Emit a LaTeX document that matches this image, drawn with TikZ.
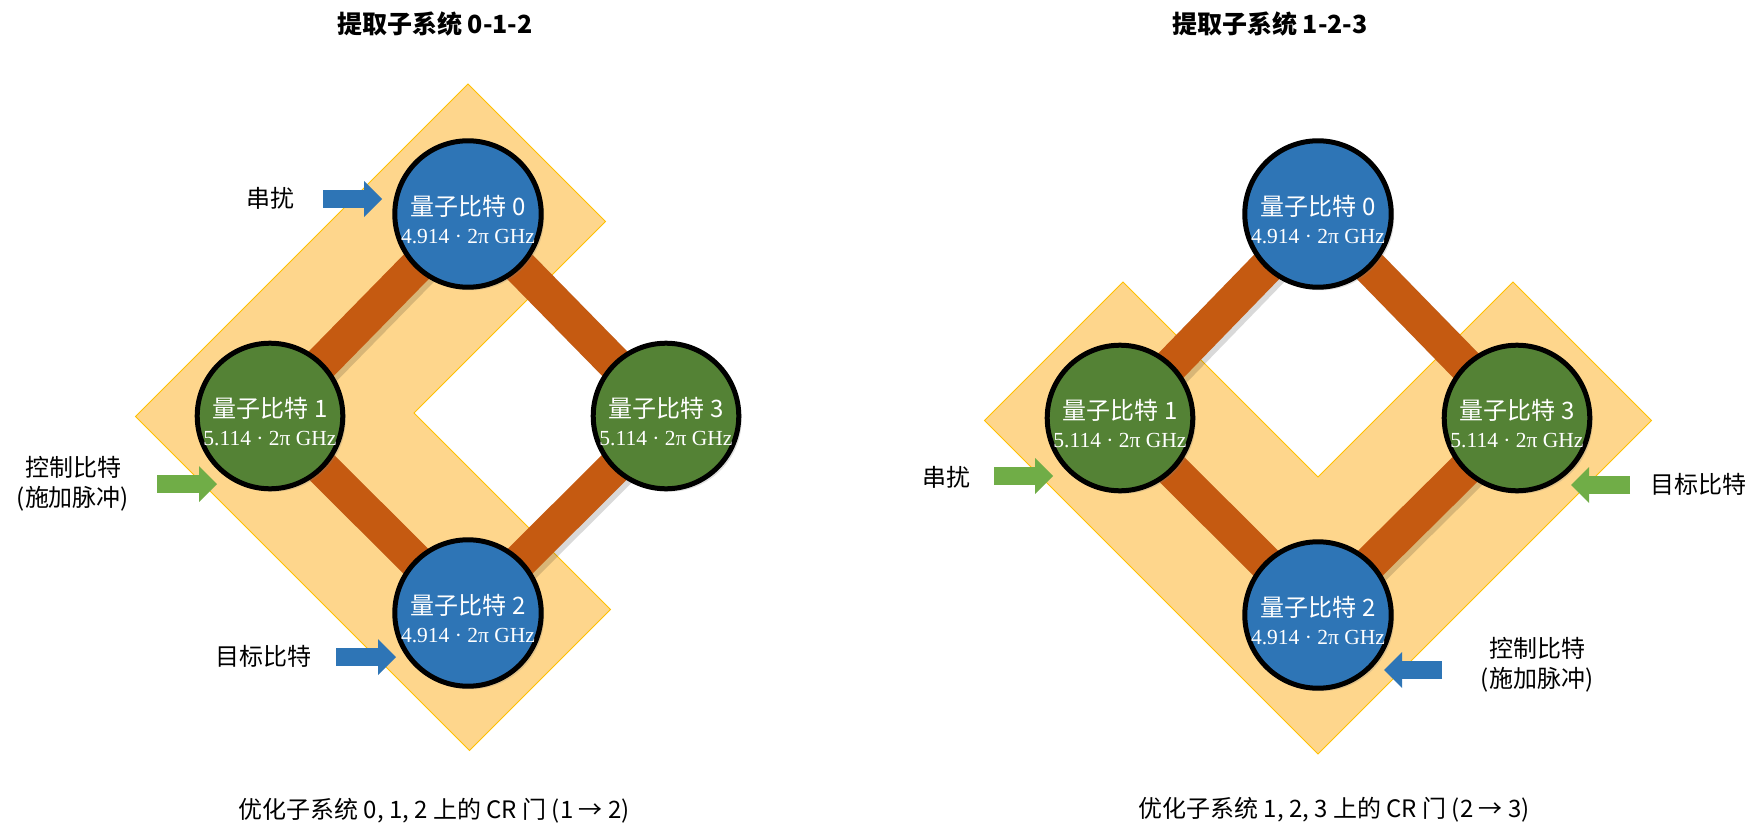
\documentclass[tikz,border=0pt]{standalone}
\usepackage{fontspec}
\newfontfamily\cjk{Noto Sans CJK SC}
\newfontfamily\freqfont{Liberation Serif}
\usetikzlibrary{arrows.meta, backgrounds, shadows}

\definecolor{qblue}{RGB}{46,117,182}
\definecolor{qgreen}{RGB}{84,130,53}
\definecolor{lgreen}{RGB}{112,173,71}
\definecolor{bond}{RGB}{197,90,17}
\definecolor{band}{RGB}{254,214,140}
\definecolor{bandedge}{RGB}{255,192,0}

\newcommand{\qname}[1]{{\cjk\fontsize{24}{28}\selectfont\rule{0pt}{32pt}量子比特 #1}}
\newcommand{\qfreq}[1]{{\freqfont\fontsize{21.5}{28}\selectfont #1 · 2π GHz}}

\tikzset{
    qubit/.style={circle, draw = black, line width = 5pt, minimum size = 143pt, inner sep = 0pt, text = white, align = center,
        font = \fontsize{24}{28}\selectfont,
        drop shadow = {shadow xshift = 3pt, shadow yshift = -3pt, opacity = 0.25}},
    bondline/.style={line width = 35pt, draw = bond},
    bondshade/.style={line width = 35pt, draw = black, opacity = 0.15},
    region/.style={draw = bandedge, line width = 1pt, fill = band},
    blockarrow/.style={line width = 18pt, -{Triangle[length = 18pt, width = 36pt, line width = 0pt]}},
    lbl/.style={font = \cjk\fontsize{24}{30.5}\selectfont, align = center},
    heading/.style={font = \cjk\bfseries\fontsize{25}{30}\selectfont},
}

\begin{document}
\begin{tikzpicture}[x = 1pt, y = -1pt, line join = miter]
        \useasboundingbox (0, 0) rectangle (1762, 840);

        % titles
        \node [heading] (titleA) at (435, 24) {提取子系统 0-1-2};
        \node [heading] (titleB) at (1270, 24) {提取子系统 1-2-3};

        % subsystem 0-1-2
        \begin{scope}[local bounding box = panelA]
            \foreach \i/\x/\y/\col/\f in {0/468/214/qblue/4.914, 1/270/416/qgreen/5.114, 2/468/613/qblue/4.914, 3/666/416/qgreen/5.114}
            {
                \node [qubit, fill = \col] (A\i) at (\x, \y) {\qname{\i}\\\qfreq{\f}};
            }
            \begin{scope}[on background layer]
                \draw [region] (468, 84) -- (605.5, 221.5) -- (414, 413) -- (610.5, 609.5) -- (469.5, 750.5) -- (135.5, 416.5) -- cycle;
                \foreach \a/\b in {0/1, 1/2, 2/3, 3/0}
                    \draw [bondshade] ([shift = {(4, 4)}]A\a.center) -- ([shift = {(4, 4)}]A\b.center);
                \foreach \a/\b in {0/1, 1/2, 2/3, 3/0}
                    \draw [bondline] (A\a.center) -- (A\b.center);
            \end{scope}
        \end{scope}

        % subsystem 1-2-3
        \begin{scope}[xshift = 850pt, local bounding box = panelB]
            \foreach \i/\x/\y/\col/\f in {0/468/214/qblue/4.914, 1/270/418/qgreen/5.114, 2/468/615/qblue/4.914, 3/667/418/qgreen/5.114}
            {
                \node [qubit, fill = \col] (B\i) at (\x, \y) {\qname{\i}\\\qfreq{\f}};
            }
            \begin{scope}[on background layer]
                \draw [region] (273, 282) -- (468, 477) -- (663, 282) -- (801.5, 420.5) -- (468, 754) -- (134.5, 420.5) -- cycle;
                \foreach \a/\b in {0/1, 1/2, 2/3, 3/0}
                    \draw [bondshade] ([shift = {(4, 4)}]B\a.center) -- ([shift = {(4, 4)}]B\b.center);
                \foreach \a/\b in {0/1, 1/2, 2/3, 3/0}
                    \draw [bondline] (B\a.center) -- (B\b.center);
            \end{scope}
        \end{scope}

        % arrows
        \foreach \nm/\sx/\ex/\yy/\col in {xtA/323/382/199/qblue, ctA/157/217/484/lgreen, tgA/336/396/657/qblue,
                                          xtB/994/1053/476/lgreen, tgB/1630/1571/485/lgreen, ctB/1442/1384/670/qblue}
        {
            \coordinate (\nm s) at (\sx, \yy);
            \coordinate (\nm e) at (\ex, \yy);
            \draw [blockarrow, \col] (\nm s) -- (\nm e);
        }

        % labels
        \node [lbl] (xtA) at (270, 198) {串扰};
        \node [lbl] (ctA) at (73, 484) {控制比特\\(施加脉冲)};
        \node [lbl] (tgA) at (263, 656) {目标比特};
        \node [lbl] (xtB) at (946, 477) {串扰};
        \node [lbl] (tgB) at (1698, 484) {目标比特};
        \node [lbl] (ctB) at (1537, 665) {控制比特\\(施加脉冲)};

        % captions
        \node [lbl] (capA) at (434, 811) {优化子系统 0, 1, 2 上的 CR 门 (1 → 2)};
        \node [lbl] (capB) at (1334, 810) {优化子系统 1, 2, 3 上的 CR 门 (2 → 3)};
    \end{tikzpicture}
\end{document}
